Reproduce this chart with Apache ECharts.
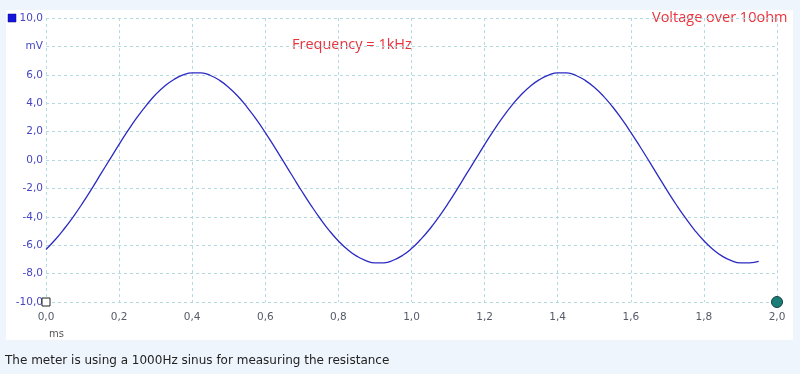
<!DOCTYPE html>
<html>
<head>
<meta charset="utf-8">
<script src="https://cdn.jsdelivr.net/npm/echarts@6/dist/echarts.min.js"></script>
<style>
html,body{margin:0;padding:0;background:#eef5fc;}
#c{width:800px;height:374px;}
</style>
</head>
<body>
<div id="c"></div>
<script>
// time in ms (sample points)
const timeMs = [
  0.000,0.025,0.050,0.075,0.100,0.125,0.150,0.175,0.200,0.225,0.250,0.275,0.300,0.325,0.350,0.375,0.400,0.425,0.450,0.475,
  0.500,0.525,0.550,0.575,0.600,0.625,0.650,0.675,0.700,0.725,0.750,0.775,0.800,0.825,0.850,0.875,0.900,0.925,0.950,0.975,
  1.000,1.025,1.050,1.075,1.100,1.125,1.150,1.175,1.200,1.225,1.250,1.275,1.300,1.325,1.350,1.375,1.400,1.425,1.450,1.475,
  1.500,1.525,1.550,1.575,1.600,1.625,1.650,1.675,1.700,1.725,1.750,1.775,1.800,1.825,1.850,1.875,1.900,1.925,1.950];
// voltage in mV
const voltageMv = [
  -6.30,-5.62,-4.84,-3.98,-3.04,-2.03,-0.98,0.06,1.10,2.10,3.03,3.87,4.61,5.21,5.67,5.99,6.14,6.13,5.95,5.61,
  5.11,4.49,3.73,2.87,1.93,0.92,-0.12,-1.16,-2.20,-3.19,-4.12,-4.97,-5.70,-6.31,-6.77,-7.09,-7.25,-7.24,-7.06,-6.73,
  -6.24,-5.60,-4.86,-4.00,-3.06,-2.05,-1.00,0.04,1.08,2.09,3.02,3.87,4.60,5.20,5.66,5.98,6.14,6.13,5.95,5.61,
  5.12,4.50,3.75,2.89,1.95,0.95,-0.08,-1.13,-2.17,-3.17,-4.10,-4.95,-5.69,-6.30,-6.77,-7.09,-7.25,-7.24,-7.14];
const cursorLeft = [[0, -10]];
const cursorRight = [[2, -10]];
const yUnitLabel = 'mV';
const xUnitLabel = 'ms';
const titleRight = 'Voltage over 10ohm';
const titleCenter = 'Frequency = 1kHz';
const caption = 'The meter is using a 1000Hz sinus for measuring the resistance';

const fmt = v => v.toFixed(1).replace('.', ',');
const gridColor = '#b4dae2';

const chart = echarts.init(document.getElementById('c'));
chart.setOption({
  animation: false,
  backgroundColor: '#eef5fc',
  grid: {left: 46, right: 23, top: 18, bottom: 72, containLabel: false},
  graphic: [
    {type: 'rect', z: -10, shape: {x: 6, y: 10, width: 787, height: 330}, style: {fill: '#ffffff'}},
    {type: 'rect', shape: {x: 8, y: 14, width: 8, height: 8}, style: {fill: '#1515dd', stroke: '#0a0a80', lineWidth: 0.5}},
    {type: 'text', left: 652, top: 10, style: {text: titleRight, fill: '#e8323c', font: '14.5px "Open Sans", sans-serif'}},
    {type: 'text', left: 292, top: 37, style: {text: titleCenter, fill: '#e8323c', font: '14.5px "Open Sans", sans-serif'}},
    {type: 'text', left: 49, top: 329, style: {text: xUnitLabel, fill: '#555', font: '10px "DejaVu Sans", sans-serif'}},
    {type: 'text', left: 5, top: 355, style: {text: caption, fill: '#222', font: '12px "DejaVu Sans", sans-serif'}}
  ],
  xAxis: {
    type: 'value', min: 0, max: 2, interval: 0.2,
    axisLine: {show: false}, axisTick: {show: false},
    axisLabel: {formatter: fmt, color: '#555a66', fontSize: 10.5, fontFamily: 'DejaVu Sans', margin: 10},
    splitLine: {show: true, lineStyle: {color: gridColor, type: [3, 3], width: 1}}
  },
  yAxis: {
    type: 'value', min: -10, max: 10, interval: 2,
    axisLine: {show: false}, axisTick: {show: false},
    axisLabel: {formatter: v => (v === 8 ? yUnitLabel : fmt(v)), color: '#4646c4', fontSize: 10.5, fontFamily: 'DejaVu Sans', margin: 3},
    splitLine: {show: true, lineStyle: {color: gridColor, type: [3, 3], width: 1}}
  },
  series: [
    {
      type: 'line', data: timeMs.map((t, i) => [t, voltageMv[i]]),
      smooth: true, showSymbol: false,
      lineStyle: {color: '#2b2bc4', width: 1.3}
    },
    {
      type: 'scatter', data: cursorLeft, symbol: 'rect', symbolSize: 8, clip: false,
      itemStyle: {color: '#ffffff', borderColor: '#222', borderWidth: 1, opacity: 1}
    },
    {
      type: 'scatter', data: cursorRight, symbol: 'circle', symbolSize: 11, clip: false,
      itemStyle: {color: '#1b7d78', borderColor: '#123f44', borderWidth: 1, opacity: 1}
    }
  ]
});
</script>
</body>
</html>
